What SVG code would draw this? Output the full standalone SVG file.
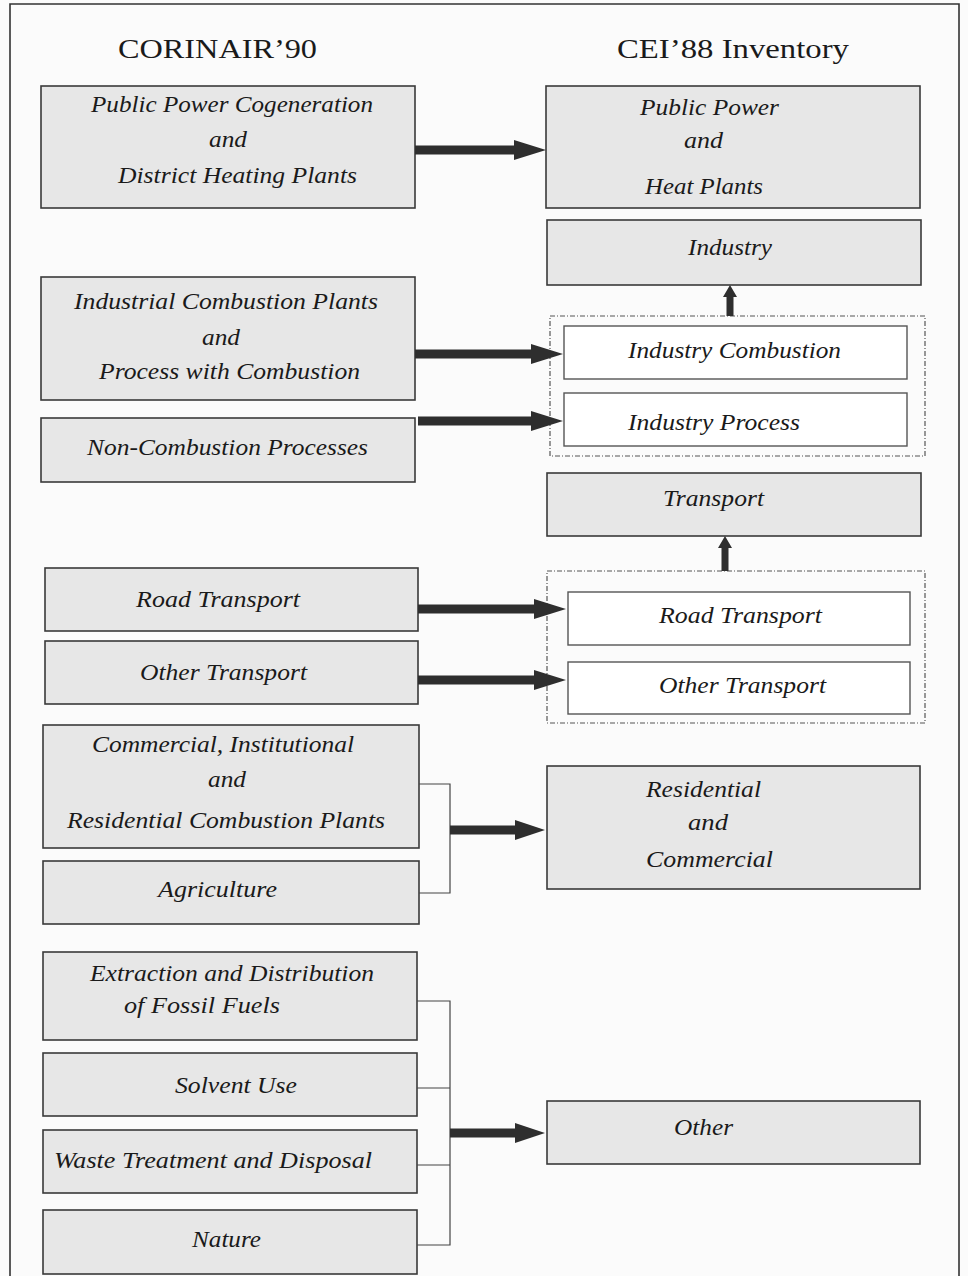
<svg xmlns="http://www.w3.org/2000/svg" width="968" height="1276" viewBox="0 0 968 1276">
<style>
.bg{fill:#fbfbfb}
.frame{fill:none;stroke:#333;stroke-width:1.6}
.box{fill:#e7e7e7;stroke:#3a3a3a;stroke-width:1.6}
.wbox{fill:#ffffff;stroke:#555;stroke-width:1.4}
.dash{fill:none;stroke:#555;stroke-width:1.2;stroke-dasharray:5 2 1 2}
.t{font-family:"Liberation Serif","Times New Roman",serif;font-style:italic;font-size:24px;fill:#1a1a1a}
.h{font-family:"Liberation Serif","Times New Roman",serif;font-size:28px;fill:#1a1a1a}
.arrow{fill:#2e2e2e;stroke:none}
.br{fill:none;stroke:#444;stroke-width:1.2}
</style>
<rect class="bg" x="0" y="0" width="968" height="1276"/>
<path class="frame" d="M10,1280 V4 H959 V1280"/>
<text class="h" x="118" y="58" textLength="199" lengthAdjust="spacingAndGlyphs">CORINAIR’90</text>
<text class="h" x="617" y="58" textLength="232" lengthAdjust="spacingAndGlyphs">CEI’88 Inventory</text>

<g id="n-public-power-cogen">
<rect class="box" x="41" y="86" width="374" height="122"/>
<text class="t" x="91" y="112" textLength="282" lengthAdjust="spacingAndGlyphs">Public Power Cogeneration</text>
<text class="t" x="209" y="147" textLength="38" lengthAdjust="spacingAndGlyphs">and</text>
<text class="t" x="118" y="183" textLength="239" lengthAdjust="spacingAndGlyphs">District Heating Plants</text>
</g>
<g id="n-public-power-heat">
<rect class="box" x="546" y="86" width="374" height="122"/>
<text class="t" x="640" y="115" textLength="139" lengthAdjust="spacingAndGlyphs">Public Power</text>
<text class="t" x="684" y="148" textLength="39" lengthAdjust="spacingAndGlyphs">and</text>
<text class="t" x="645" y="194" textLength="118" lengthAdjust="spacingAndGlyphs">Heat Plants</text>
</g>
<g id="n-industry">
<rect class="box" x="547" y="220" width="374" height="65"/>
<text class="t" x="688" y="255" textLength="84" lengthAdjust="spacingAndGlyphs">Industry</text>
</g>
<g id="n-industrial-combustion">
<rect class="box" x="41" y="277" width="374" height="123"/>
<text class="t" x="74" y="309" textLength="304" lengthAdjust="spacingAndGlyphs">Industrial Combustion Plants</text>
<text class="t" x="202" y="345" textLength="38" lengthAdjust="spacingAndGlyphs">and</text>
<text class="t" x="99" y="379" textLength="261" lengthAdjust="spacingAndGlyphs">Process with Combustion</text>
</g>
<g id="n-non-combustion">
<rect class="box" x="41" y="418" width="374" height="64"/>
<text class="t" x="87" y="455" textLength="281" lengthAdjust="spacingAndGlyphs">Non-Combustion Processes</text>
</g>
<g id="g-industry-group">
<rect class="dash" x="550" y="316" width="375" height="140"/>
</g>
<g id="n-industry-combustion">
<rect class="wbox" x="564" y="326" width="343" height="53"/>
<text class="t" x="628" y="358" textLength="213" lengthAdjust="spacingAndGlyphs">Industry Combustion</text>
</g>
<g id="n-industry-process">
<rect class="wbox" x="564" y="393" width="343" height="53"/>
<text class="t" x="628" y="430" textLength="172" lengthAdjust="spacingAndGlyphs">Industry Process</text>
</g>
<g id="n-transport">
<rect class="box" x="547" y="473" width="374" height="63"/>
<text class="t" x="663" y="506" textLength="101" lengthAdjust="spacingAndGlyphs">Transport</text>
</g>
<g id="g-transport-group">
<rect class="dash" x="547" y="571" width="378" height="152"/>
</g>
<g id="n-road-left">
<rect class="box" x="45" y="568" width="373" height="63"/>
<text class="t" x="136" y="607" textLength="164" lengthAdjust="spacingAndGlyphs">Road Transport</text>
</g>
<g id="n-other-left">
<rect class="box" x="45" y="641" width="373" height="63"/>
<text class="t" x="140" y="680" textLength="167" lengthAdjust="spacingAndGlyphs">Other Transport</text>
</g>
<g id="n-road-right">
<rect class="wbox" x="568" y="592" width="342" height="53"/>
<text class="t" x="659" y="623" textLength="163" lengthAdjust="spacingAndGlyphs">Road Transport</text>
</g>
<g id="n-other-right">
<rect class="wbox" x="568" y="662" width="342" height="52"/>
<text class="t" x="659" y="693" textLength="167" lengthAdjust="spacingAndGlyphs">Other Transport</text>
</g>
<g id="n-commercial">
<rect class="box" x="43" y="725" width="376" height="123"/>
<text class="t" x="92" y="752" textLength="262" lengthAdjust="spacingAndGlyphs">Commercial, Institutional</text>
<text class="t" x="208" y="787" textLength="38" lengthAdjust="spacingAndGlyphs">and</text>
<text class="t" x="67" y="828" textLength="318" lengthAdjust="spacingAndGlyphs">Residential Combustion Plants</text>
</g>
<g id="n-agriculture">
<rect class="box" x="43" y="861" width="376" height="63"/>
<text class="t" x="158" y="897" textLength="119" lengthAdjust="spacingAndGlyphs">Agriculture</text>
</g>
<g id="n-residential">
<rect class="box" x="547" y="766" width="373" height="123"/>
<text class="t" x="646" y="797" textLength="115" lengthAdjust="spacingAndGlyphs">Residential</text>
<text class="t" x="688" y="830" textLength="40" lengthAdjust="spacingAndGlyphs">and</text>
<text class="t" x="646" y="867" textLength="127" lengthAdjust="spacingAndGlyphs">Commercial</text>
</g>
<g id="n-extraction">
<rect class="box" x="43" y="952" width="374" height="88"/>
<text class="t" x="90" y="981" textLength="284" lengthAdjust="spacingAndGlyphs">Extraction and Distribution</text>
<text class="t" x="124" y="1013" textLength="156" lengthAdjust="spacingAndGlyphs">of Fossil Fuels</text>
</g>
<g id="n-solvent">
<rect class="box" x="43" y="1053" width="374" height="63"/>
<text class="t" x="175" y="1093" textLength="122" lengthAdjust="spacingAndGlyphs">Solvent Use</text>
</g>
<g id="n-waste">
<rect class="box" x="43" y="1130" width="374" height="63"/>
<text class="t" x="54" y="1168" textLength="318" lengthAdjust="spacingAndGlyphs">Waste Treatment and Disposal</text>
</g>
<g id="n-nature">
<rect class="box" x="43" y="1210" width="374" height="64"/>
<text class="t" x="192" y="1247" textLength="69" lengthAdjust="spacingAndGlyphs">Nature</text>
</g>
<g id="n-other">
<rect class="box" x="547" y="1101" width="373" height="63"/>
<text class="t" x="674" y="1135" textLength="59" lengthAdjust="spacingAndGlyphs">Other</text>
</g>

<g id="connectors">
<path class="br" d="M419,784 H450 V893 H419"/>
<path class="br" d="M417,1001 H450 V1245 H417 M417,1088 H450 M417,1165 H450"/>
<polygon class="arrow" points="415,145.5 514,145.5 514,140 546,150 514,160 514,154.5 415,154.5"/>
<polygon class="arrow" points="415,349.5 531,349.5 531,344 563,354 531,364 531,358.5 415,358.5"/>
<polygon class="arrow" points="418,416.5 531,416.5 531,411 563,421 531,431 531,425.5 418,425.5"/>
<polygon class="arrow" points="418,604.5 534,604.5 534,599 566,609 534,619 534,613.5 418,613.5"/>
<polygon class="arrow" points="418,675.5 534,675.5 534,670 566,680 534,690 534,684.5 418,684.5"/>
<polygon class="arrow" points="450,825.5 515,825.5 515,820 545,830 515,840 515,834.5 450,834.5"/>
<polygon class="arrow" points="450,1128.5 515,1128.5 515,1123 545,1133 515,1143 515,1137.5 450,1137.5"/>
<polygon class="arrow" points="726.5,316 726.5,297 723,297 730,285 737,297 733.5,297 733.5,316"/>
<polygon class="arrow" points="721.5,571 721.5,548 718,548 725,536 732,548 728.5,548 728.5,571"/>
</g>
</svg>
